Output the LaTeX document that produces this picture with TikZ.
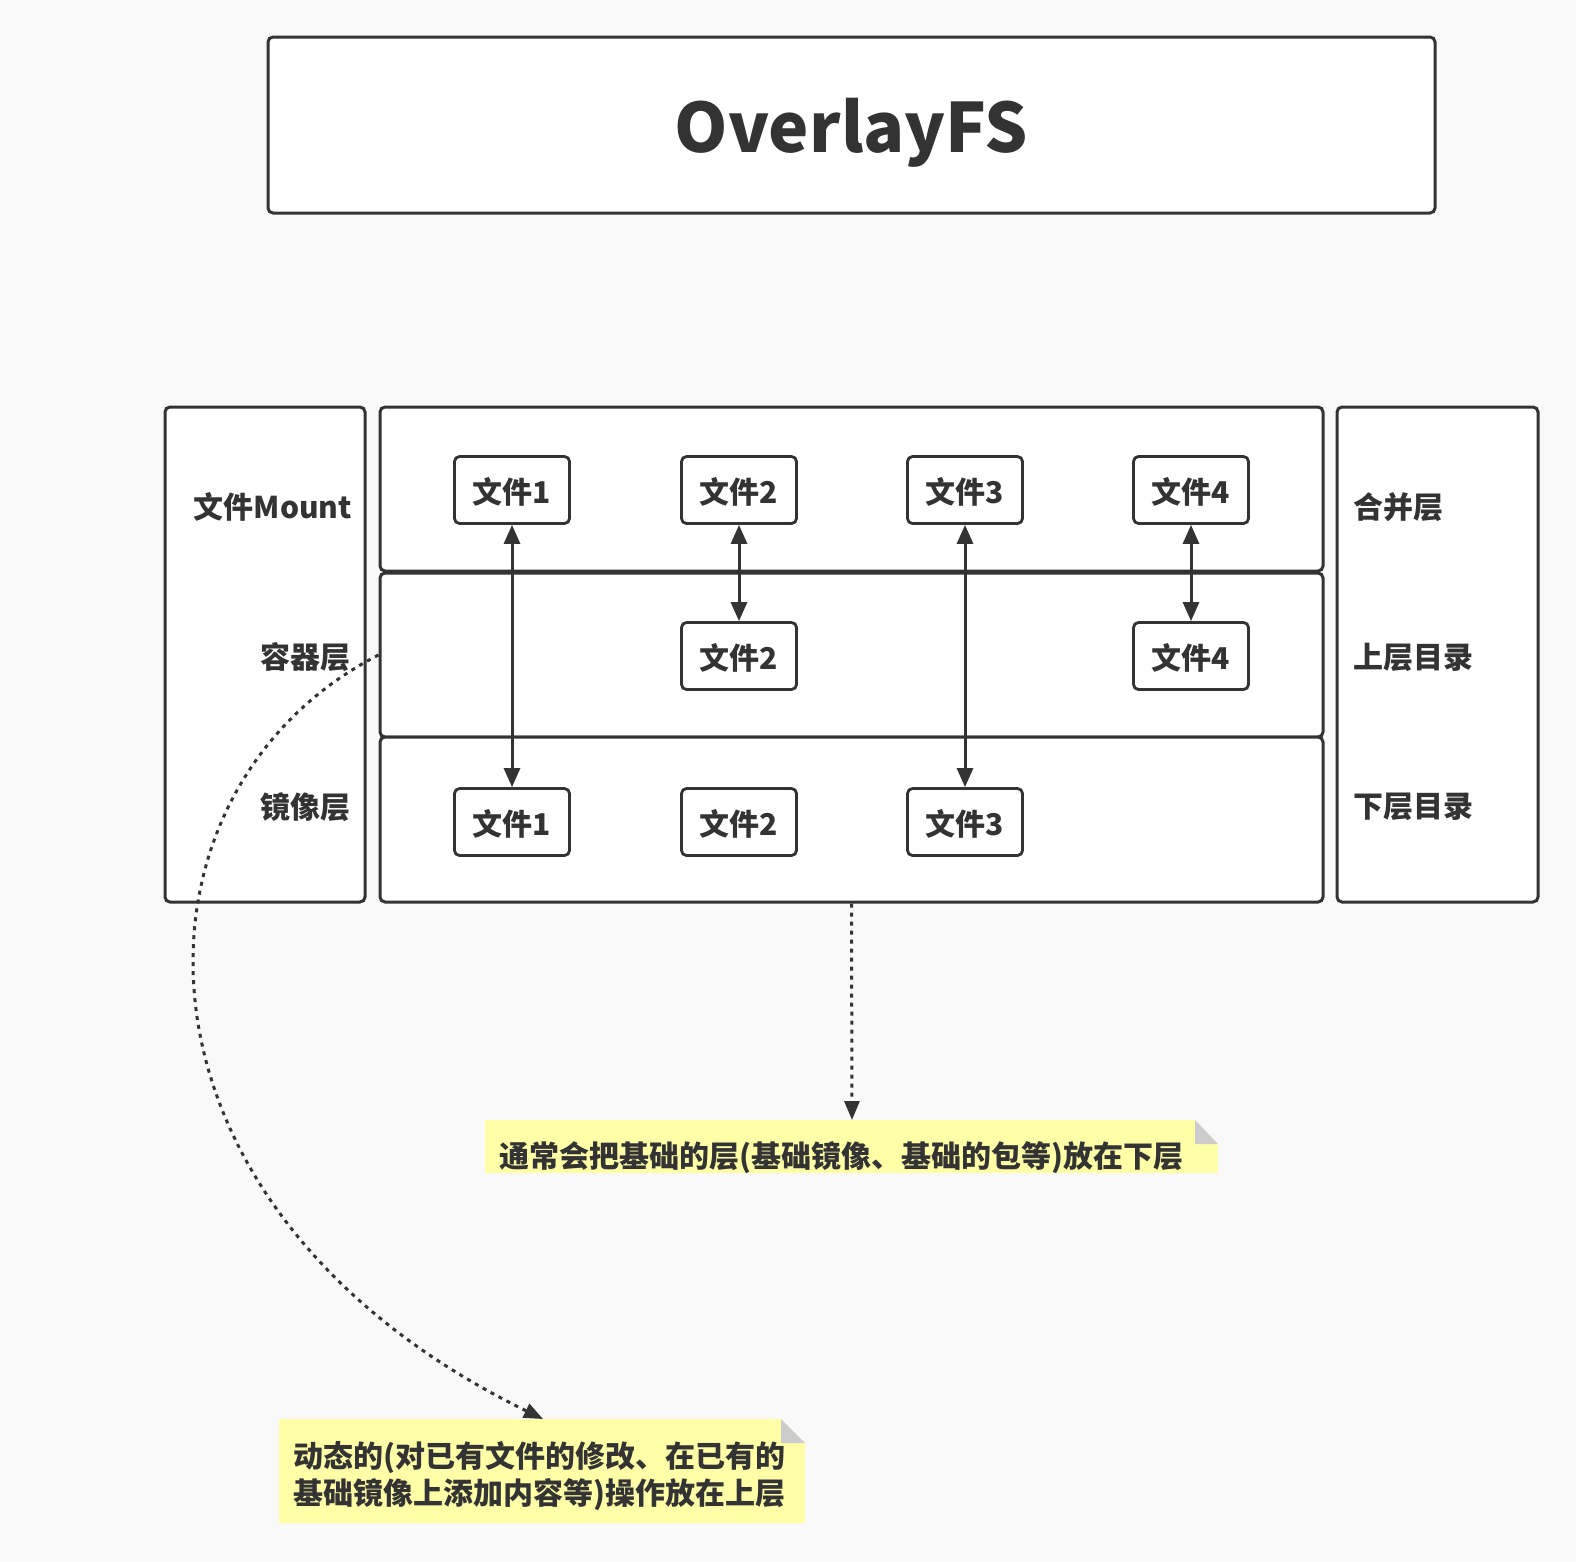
\documentclass[tikz,border=0pt]{standalone}
\usepackage{fontspec}
\setmainfont{Noto Sans CJK SC}
\usetikzlibrary{arrows.meta}
\definecolor{ink}{HTML}{333333}
\definecolor{bg}{HTML}{F9F9F9}
\definecolor{notefill}{HTML}{FFFFA8}
\definecolor{foldgray}{HTML}{CCCCCC}
\begin{document}
\begin{tikzpicture}[x=1pt,y=-1pt,
  every node/.style={text=ink,font=\fontsize{30}{36}\selectfont\bfseries},
  panel/.style={draw=ink,fill=white,line width=3pt,rounded corners=5pt,inner sep=0pt},
  fbox/.style={draw=ink,fill=white,line width=2.8pt,rounded corners=5pt,minimum width=115pt,minimum height=67pt,inner sep=0pt,text depth=0pt,yshift=0pt},
  lbl/.style={inner sep=0pt},
  biarrow/.style={draw=ink,line width=3pt,{Triangle[length=19pt,width=16pt]}-{Triangle[length=19pt,width=16pt]}},
  dotarrow/.style={draw=ink,line width=3pt,dash pattern=on 4pt off 5pt,-{Triangle[length=19pt,width=15pt]}},
  notetext/.style={inner sep=0pt,anchor=west,align=left}
]
\useasboundingbox (0,0) rectangle (1576,1561);
\fill[bg] (0,0) rectangle (1576,1561);

% title
\node[panel,minimum width=1167pt,minimum height=176pt] (title) at (851.5,125) {};
\node[lbl,font=\fontsize{68}{72}\selectfont\bfseries] (titletext) at (851.5,133) {OverlayFS};

% side panels
\node[panel,minimum width=200pt,minimum height=495pt] (leftp) at (265,654.5) {};
\node[panel,minimum width=201pt,minimum height=495pt] (rightp) at (1437.5,654.5) {};

% layers
\node[panel,minimum width=943pt,minimum height=164pt] (L1) at (851.5,489) {};
\node[panel,minimum width=943pt,minimum height=164pt] (L2) at (851.5,655) {};
\node[panel,minimum width=943pt,minimum height=165pt] (L3) at (851.5,819.5) {};

% left labels
\node[lbl] (lmount) at (273,507) {文件Mount};
\node[lbl,anchor=east] (lcont) at (351,657) {容器层};
\node[lbl,anchor=east] (limg) at (351,807) {镜像层};

% right labels
\node[lbl,anchor=west] (rmerge) at (1353,507) {合并层};
\node[lbl,anchor=west] (rupper) at (1353,657) {上层目录};
\node[lbl,anchor=west] (rlower) at (1353,807) {下层目录};

% file boxes
\node[fbox] (t1) at (512,490) {文件1};
\node[fbox] (t2) at (739,490) {文件2};
\node[fbox] (t3) at (965,490) {文件3};
\node[fbox] (t4) at (1191,490) {文件4};
\node[fbox] (m2) at (739,656) {文件2};
\node[fbox] (m4) at (1191,656) {文件4};
\node[fbox] (b1) at (512,822) {文件1};
\node[fbox] (b2) at (739,822) {文件2};
\node[fbox] (b3) at (965,822) {文件3};

% arrows
\draw[biarrow] (t1.south) -- (b1.north);
\draw[biarrow] (t2.south) -- (m2.north);
\draw[biarrow] (t3.south) -- (b3.north);
\draw[biarrow] (t4.south) -- (m4.north);

% notes
\fill[notefill] (485,1120) -- (1195,1120) -- (1218,1144) -- (1218,1173) -- (485,1173) -- cycle;
\fill[foldgray] (1195,1120) -- (1195,1144) -- (1218,1144) -- cycle;
\coordinate (n1top) at (852,1120);
\node[notetext] (n1) at (499,1158) {通常会把基础的层(基础镜像、基础的包等)放在下层};

\fill[notefill] (279,1419) -- (781,1419) -- (805,1443) -- (805,1523) -- (279,1523) -- cycle;
\fill[foldgray] (781,1419) -- (781,1443) -- (805,1443) -- cycle;
\coordinate (n2top) at (543,1419);
\node[notetext,font=\fontsize{30}{37}\selectfont\bfseries] (n2) at (293,1476) {动态的(对已有文件的修改、在已有的\\基础镜像上添加内容等)操作放在上层};

% dotted connectors
\draw[dotarrow] (L3.south) -- (n1top);
\draw[dotarrow] (L2.west) .. controls (115,790) and (105,1205) .. (n2top);
\end{tikzpicture}
\end{document}
